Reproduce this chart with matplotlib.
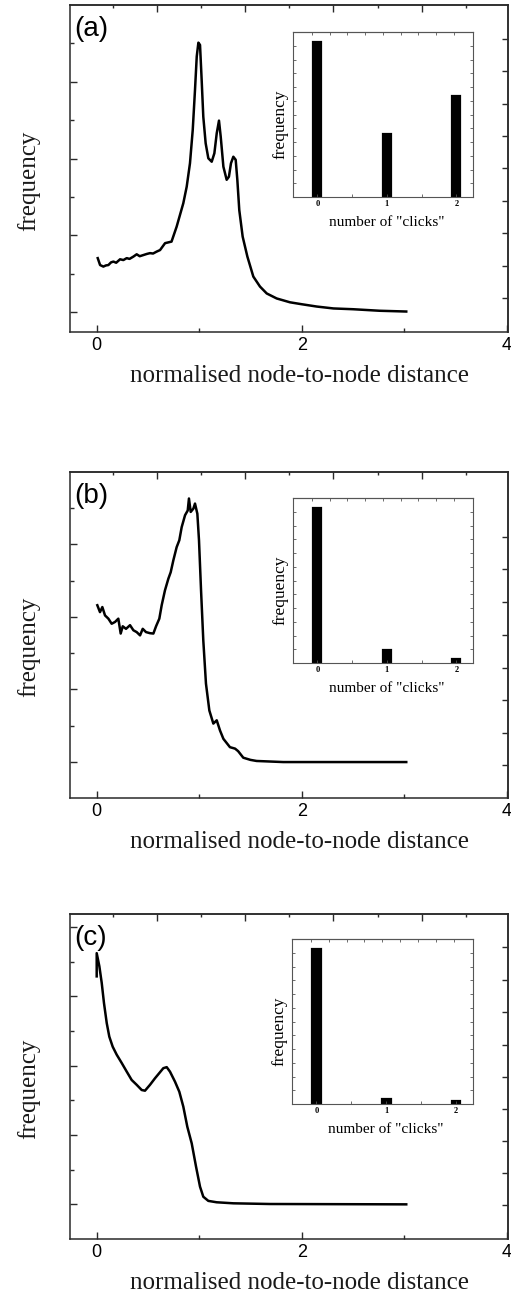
import matplotlib
matplotlib.use('Agg')
import matplotlib.pyplot as plt
import numpy as np

# ---------------- data ----------------
# main curves: x = normalised node-to-node distance, y = frequency (arbitrary units)
xa = [0.01, 0.033, 0.065, 0.09, 0.114, 0.14, 0.163, 0.19, 0.228, 0.26, 0.293, 0.32, 0.358, 0.39, 0.42,
      0.455, 0.49, 0.52, 0.55, 0.585, 0.618, 0.667, 0.73, 0.78, 0.845, 0.878, 0.91, 0.937, 0.959,
      0.976, 0.992, 1.008, 1.024, 1.04, 1.063, 1.089, 1.122, 1.148, 1.171, 1.193, 1.21, 1.236, 1.268,
      1.29, 1.31, 1.333, 1.356, 1.372, 1.391, 1.424, 1.47, 1.528, 1.593, 1.659, 1.756, 1.886, 2.0,
      2.146, 2.31, 2.5, 2.76, 3.02]
ya = [1.41, 1.23, 1.19, 1.22, 1.23, 1.30, 1.32, 1.29, 1.38, 1.36, 1.41, 1.39, 1.45, 1.51, 1.46,
      1.49, 1.52, 1.54, 1.53, 1.58, 1.62, 1.80, 1.84, 2.23, 2.84, 3.27, 3.88, 4.75, 5.79,
      6.66, 7.02, 6.96, 6.05, 5.09, 4.40, 4.01, 3.92, 4.14, 4.66, 4.99, 4.57, 3.79, 3.45,
      3.53, 3.88, 4.05, 3.97, 3.45, 2.66, 1.97, 1.45, 0.93, 0.67, 0.49, 0.36, 0.26, 0.21,
      0.15, 0.1, 0.08, 0.04, 0.02]

xb = [0.006, 0.032, 0.055, 0.081, 0.114, 0.146, 0.179, 0.211, 0.234, 0.254, 0.286, 0.325, 0.358, 0.39,
      0.423, 0.449, 0.481, 0.52, 0.553, 0.579, 0.611, 0.634, 0.666, 0.699, 0.722, 0.748, 0.78, 0.806,
      0.829, 0.862, 0.888, 0.9, 0.917, 0.943, 0.959, 0.982, 0.998, 1.018, 1.04, 1.066, 1.099, 1.138,
      1.171, 1.203, 1.236, 1.3, 1.35, 1.38, 1.43, 1.5, 1.56, 1.82, 3.02]
yb = [4.32, 4.13, 4.27, 4.04, 3.95, 3.81, 3.86, 3.95, 3.54, 3.74, 3.67, 3.77, 3.63, 3.58,
      3.49, 3.67, 3.58, 3.55, 3.54, 3.74, 3.95, 4.32, 4.73, 5.05, 5.23, 5.56, 5.92, 6.11,
      6.47, 6.8, 6.93, 7.26, 6.89, 6.98, 7.12, 6.84, 6.11, 4.73, 3.35, 2.16, 1.42, 1.06,
      1.15, 0.87, 0.64, 0.41, 0.37, 0.3, 0.12, 0.06, 0.03, 0.0, 0.0]

xc = [0.0, 0.0, 0.026, 0.049, 0.071, 0.098, 0.123, 0.156, 0.195, 0.244, 0.293, 0.341, 0.39, 0.439,
      0.471, 0.52, 0.569, 0.611, 0.65, 0.683, 0.715, 0.764, 0.806, 0.845, 0.884, 0.927, 0.969, 1.008,
      1.04, 1.089, 1.17, 1.333, 1.69, 3.02]
yc = [6.58, 7.25, 6.87, 6.39, 5.81, 5.23, 4.84, 4.55, 4.32, 4.08, 3.83, 3.59, 3.45, 3.3,
      3.28, 3.45, 3.64, 3.79, 3.93, 3.96, 3.83, 3.54, 3.25, 2.82, 2.24, 1.76, 1.09, 0.51,
      0.22, 0.1, 0.06, 0.03, 0.01, 0.0]

# inset histograms: number of "clicks" vs frequency (fraction of inset height)
clicks = [0, 1, 2]
bars_a = [0.94, 0.38, 0.61]
bars_b = [0.94, 0.08, 0.026]
bars_c = [0.94, 0.028, 0.016]

panel_labels = ['(a)', '(b)', '(c)']
xtick_major = [0, 2, 4]
xtick_labels = ['0', '2', '4']

# ---------------- layout (pixels) ----------------
W, H = 511, 1297
fig = plt.figure(figsize=(W / 100, H / 100), dpi=100, facecolor='white')

def rect(l, t, r, b):
    return [l / W, 1 - b / H, (r - l) / W, (b - t) / H]

main_boxes = [(70, 5, 508, 332), (70, 472, 508, 798), (70, 914, 508, 1239)]
inset_boxes = [(293, 32, 473, 197), (293, 498, 473, 663), (292, 939, 473, 1104)]
ylims = [(-0.513, 8.0), (-0.99, 7.99), (-1.0, 8.38)]
left_ticks = [8, 8, 9]
right_ticks = [[0.38, 1.21, 2.06, 2.9, 3.75, 4.59, 5.43, 6.28, 7.12],
               [-0.09, 0.8, 1.7, 2.6, 3.51, 4.41, 5.31, 6.2],
               [-0.02, 0.91, 1.83, 2.76, 3.69, 4.61, 5.54, 6.47, 7.43]]
top_major = [0.585, 1.447, 2.31, 3.17]
top_minor = [0.159, 1.016, 1.878, 2.74, 3.60]

serif = 'Liberation Serif'
sans = 'Liberation Sans'
spine_col = '#2a2a2a'

curves = [(xa, ya), (xb, yb), (xc, yc)]
bars = [bars_a, bars_b, bars_c]

for i in range(3):
    ax = fig.add_axes(rect(*main_boxes[i]))
    x, y = curves[i]
    ax.plot(x, y, color='black', linewidth=1.8, solid_joinstyle='round')

    ax.set_xlim(-0.2605, 4.0127)
    ax.set_ylim(*ylims[i])
    for s in ax.spines.values():
        s.set_color(spine_col)
        s.set_linewidth(1.1)

    # bottom / left ticks
    ax.set_xticks(xtick_major)
    ax.set_xticklabels(xtick_labels, fontfamily=sans, fontsize=13)
    ax.set_xticks([1, 3], minor=True)
    n = left_ticks[i]
    ax.set_yticks(list(range(0, n, 2)))
    ax.set_yticks(list(range(1, n, 2)), minor=True)
    ax.set_yticklabels([])
    ax.tick_params(which='both', direction='in', color=spine_col, width=1.0, pad=3.5)
    ax.tick_params(which='major', length=5)
    ax.tick_params(which='minor', length=2.8)

    # top / right ticks (different positions)
    top = ax.secondary_xaxis('top')
    top.set_xticks(top_major)
    top.set_xticks(top_minor, minor=True)
    top.tick_params(which='both', direction='in', labeltop=False, color=spine_col, width=1.0)
    top.tick_params(which='major', length=5)
    top.tick_params(which='minor', length=2)
    top.spines['top'].set_color(spine_col)
    top.spines['top'].set_linewidth(1.1)

    right = ax.secondary_yaxis('right')
    right.set_yticks(right_ticks[i])
    right.tick_params(direction='in', labelright=False, length=4, color=spine_col, width=1.0)
    right.spines['right'].set_color(spine_col)
    right.spines['right'].set_linewidth(1.1)

    ax.set_xlabel('normalised node-to-node distance', fontfamily=serif, fontsize=18,
                  color='#1a1a1a')
    ax.xaxis.set_label_coords(0.525, -0.102)
    ax.text(-0.095, 0.463, 'frequency', transform=ax.transAxes, rotation=90, ha='center', va='center',
            fontfamily=serif, fontsize=18, color='#1a1a1a')
    ax.text(0.009, 0.965, panel_labels[i], transform=ax.transAxes, ha='left', va='top',
            fontfamily=sans, fontsize=20)

    # inset histogram
    ins = fig.add_axes(rect(*inset_boxes[i]))
    ins.bar(clicks, bars[i], width=0.12, color='black', edgecolor='black', linewidth=1.6)
    ins.set_xlim(-0.35, 2.24)
    ins.set_ylim(0, 1)
    for s in ins.spines.values():
        s.set_color('#555555')
        s.set_linewidth(0.8)
    ins.set_xticks(clicks)
    ins.set_xticklabels(['0', '1', '2'], fontfamily=serif, fontsize=6, fontweight='bold')
    ins.set_xticks([0.5, 1.5], minor=True)
    ins.set_yticks(np.arange(1, 12) / 12)
    ins.set_yticklabels([])
    ins.tick_params(which='both', direction='in', length=2, width=0.6, color='#555555', pad=2,
                    right=True)
    itop = ins.secondary_xaxis('top')
    itop.set_xticks([-0.076, 0.176, 0.43, 0.68, 0.94, 1.2, 1.45, 1.71, 1.97])
    itop.tick_params(direction='in', length=2, width=0.6, color='#555555', labeltop=False)
    itop.spines['top'].set_color('#555555')
    itop.spines['top'].set_linewidth(0.8)
    ins.text(0.52, -0.115, 'number of "clicks"', transform=ins.transAxes, ha='center', va='top',
             fontfamily=serif, fontsize=11)
    ins.text(-0.068, 0.44, 'frequency', transform=ins.transAxes, rotation=90, ha='center',
             va='center', fontfamily=serif, fontsize=12.5)

plt.savefig('out.png', dpi=100, facecolor='white')
